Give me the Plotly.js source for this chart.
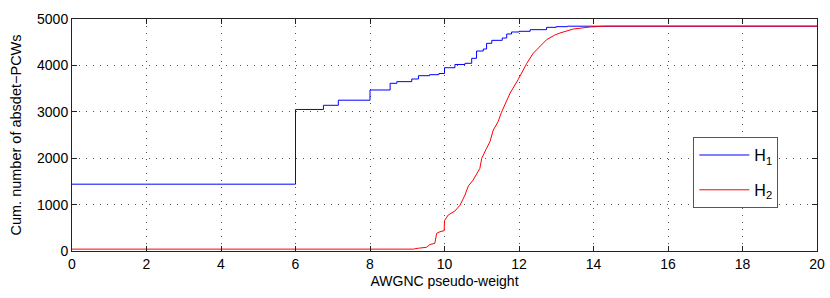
<!DOCTYPE html>
<html>
<head>
<meta charset="utf-8">
<script src="https://cdn.plot.ly/plotly-3.0.1.min.js"></script>
<style>html,body{margin:0;padding:0;background:#fff;}#chart{width:830px;height:298px;}</style>
</head>
<body>
<div id="chart"></div>
<script>
// H1 (blue) cumulative step data
const h1X = [0, 6, 6.75, 7.15, 8, 8.54, 8.72, 9.12, 9.30, 9.6, 9.85, 10.0, 10.28, 10.55, 10.73, 10.86, 11.04, 11.13, 11.27, 11.55, 11.67, 11.80, 12.0, 12.3, 12.74, 13.0, 13.3, 20];
const h1Y = [1440, 3050, 3140, 3250, 3470, 3614, 3650, 3707, 3778, 3800, 3825, 3950, 4020, 4045, 4153, 4310, 4353, 4476, 4540, 4590, 4677, 4720, 4735, 4770, 4820, 4835, 4845, 4845];
// H2 (red) cumulative data
const h2X = [0, 9.16, 9.30, 9.52, 9.61, 9.74, 9.79, 9.88, 9.99, 10.0, 10.10, 10.28, 10.42, 10.55, 10.64, 10.77, 10.95, 11.0, 11.13, 11.22, 11.31, 11.44, 11.53, 11.67, 11.76, 11.98, 12.21, 12.38, 12.52, 12.74, 12.95, 13.10, 13.46, 13.91, 14.3, 20];
const h2Y = [40, 40, 60, 80, 140, 165, 380, 416, 438, 653, 776, 862, 991, 1207, 1401, 1530, 1782, 1998, 2213, 2356, 2608, 2787, 2990, 3254, 3399, 3700, 4045, 4260, 4375, 4554, 4650, 4698, 4784, 4828, 4845, 4845];
const xTicks = [0, 2, 4, 6, 8, 10, 12, 14, 16, 18, 20];
const yTicks = [0, 1000, 2000, 3000, 4000, 5000];
const seriesNames = ['H<sub>1</sub>', 'H<sub>2</sub>'];

const traces = [
  {x: h1X, y: h1Y, type: 'scatter', mode: 'lines', name: seriesNames[0], legendgroup: 'g1',
   line: {color: '#0000ff', width: 1, shape: 'hv'}},
  {x: h2X, y: h2Y, type: 'scatter', mode: 'lines', name: seriesNames[1], legendgroup: 'g2',
   line: {color: '#ff0000', width: 1, shape: 'linear'}}
];

const axisCommon = {
  showline: true, mirror: 'ticks', linecolor: '#222', linewidth: 1,
  ticks: 'inside', ticklen: 5, tickcolor: '#222', tickwidth: 1,
  showgrid: true, gridcolor: '#555', griddash: '1px,6px', gridwidth: 1,
  zeroline: false, tickfont: {family: 'Liberation Sans, Arial, sans-serif', size: 14, color: '#000'}
};

const layout = {
  width: 830, height: 298,
  margin: {l: 72, r: 13, t: 19, b: 47},
  paper_bgcolor: '#fff', plot_bgcolor: '#fff',
  font: {family: 'Liberation Sans, Arial, sans-serif', size: 14, color: '#000'},
  xaxis: Object.assign({}, axisCommon, {
    range: [0, 20], tickvals: xTicks, ticktext: xTicks.map(String),
    title: {text: 'AWGNC pseudo-weight', font: {size: 14}, standoff: 5}
  }),
  yaxis: Object.assign({}, axisCommon, {
    range: [0, 5000], tickvals: yTicks, ticktext: yTicks.map(String),
    title: {text: 'Cum. number of absdet\u2212PCWs', font: {size: 14.5}, standoff: 11}
  }),
  showlegend: true,
  legend: {
    x: 0.834, y: 0.491, xanchor: 'left', yanchor: 'top',
    bgcolor: '#fff', bordercolor: '#555', borderwidth: 1,
    font: {size: 16}, itemwidth: 50, tracegroupgap: 11
  }
};

Plotly.newPlot('chart', traces, layout, {displayModeBar: false, staticPlot: true});
</script>
</body>
</html>
